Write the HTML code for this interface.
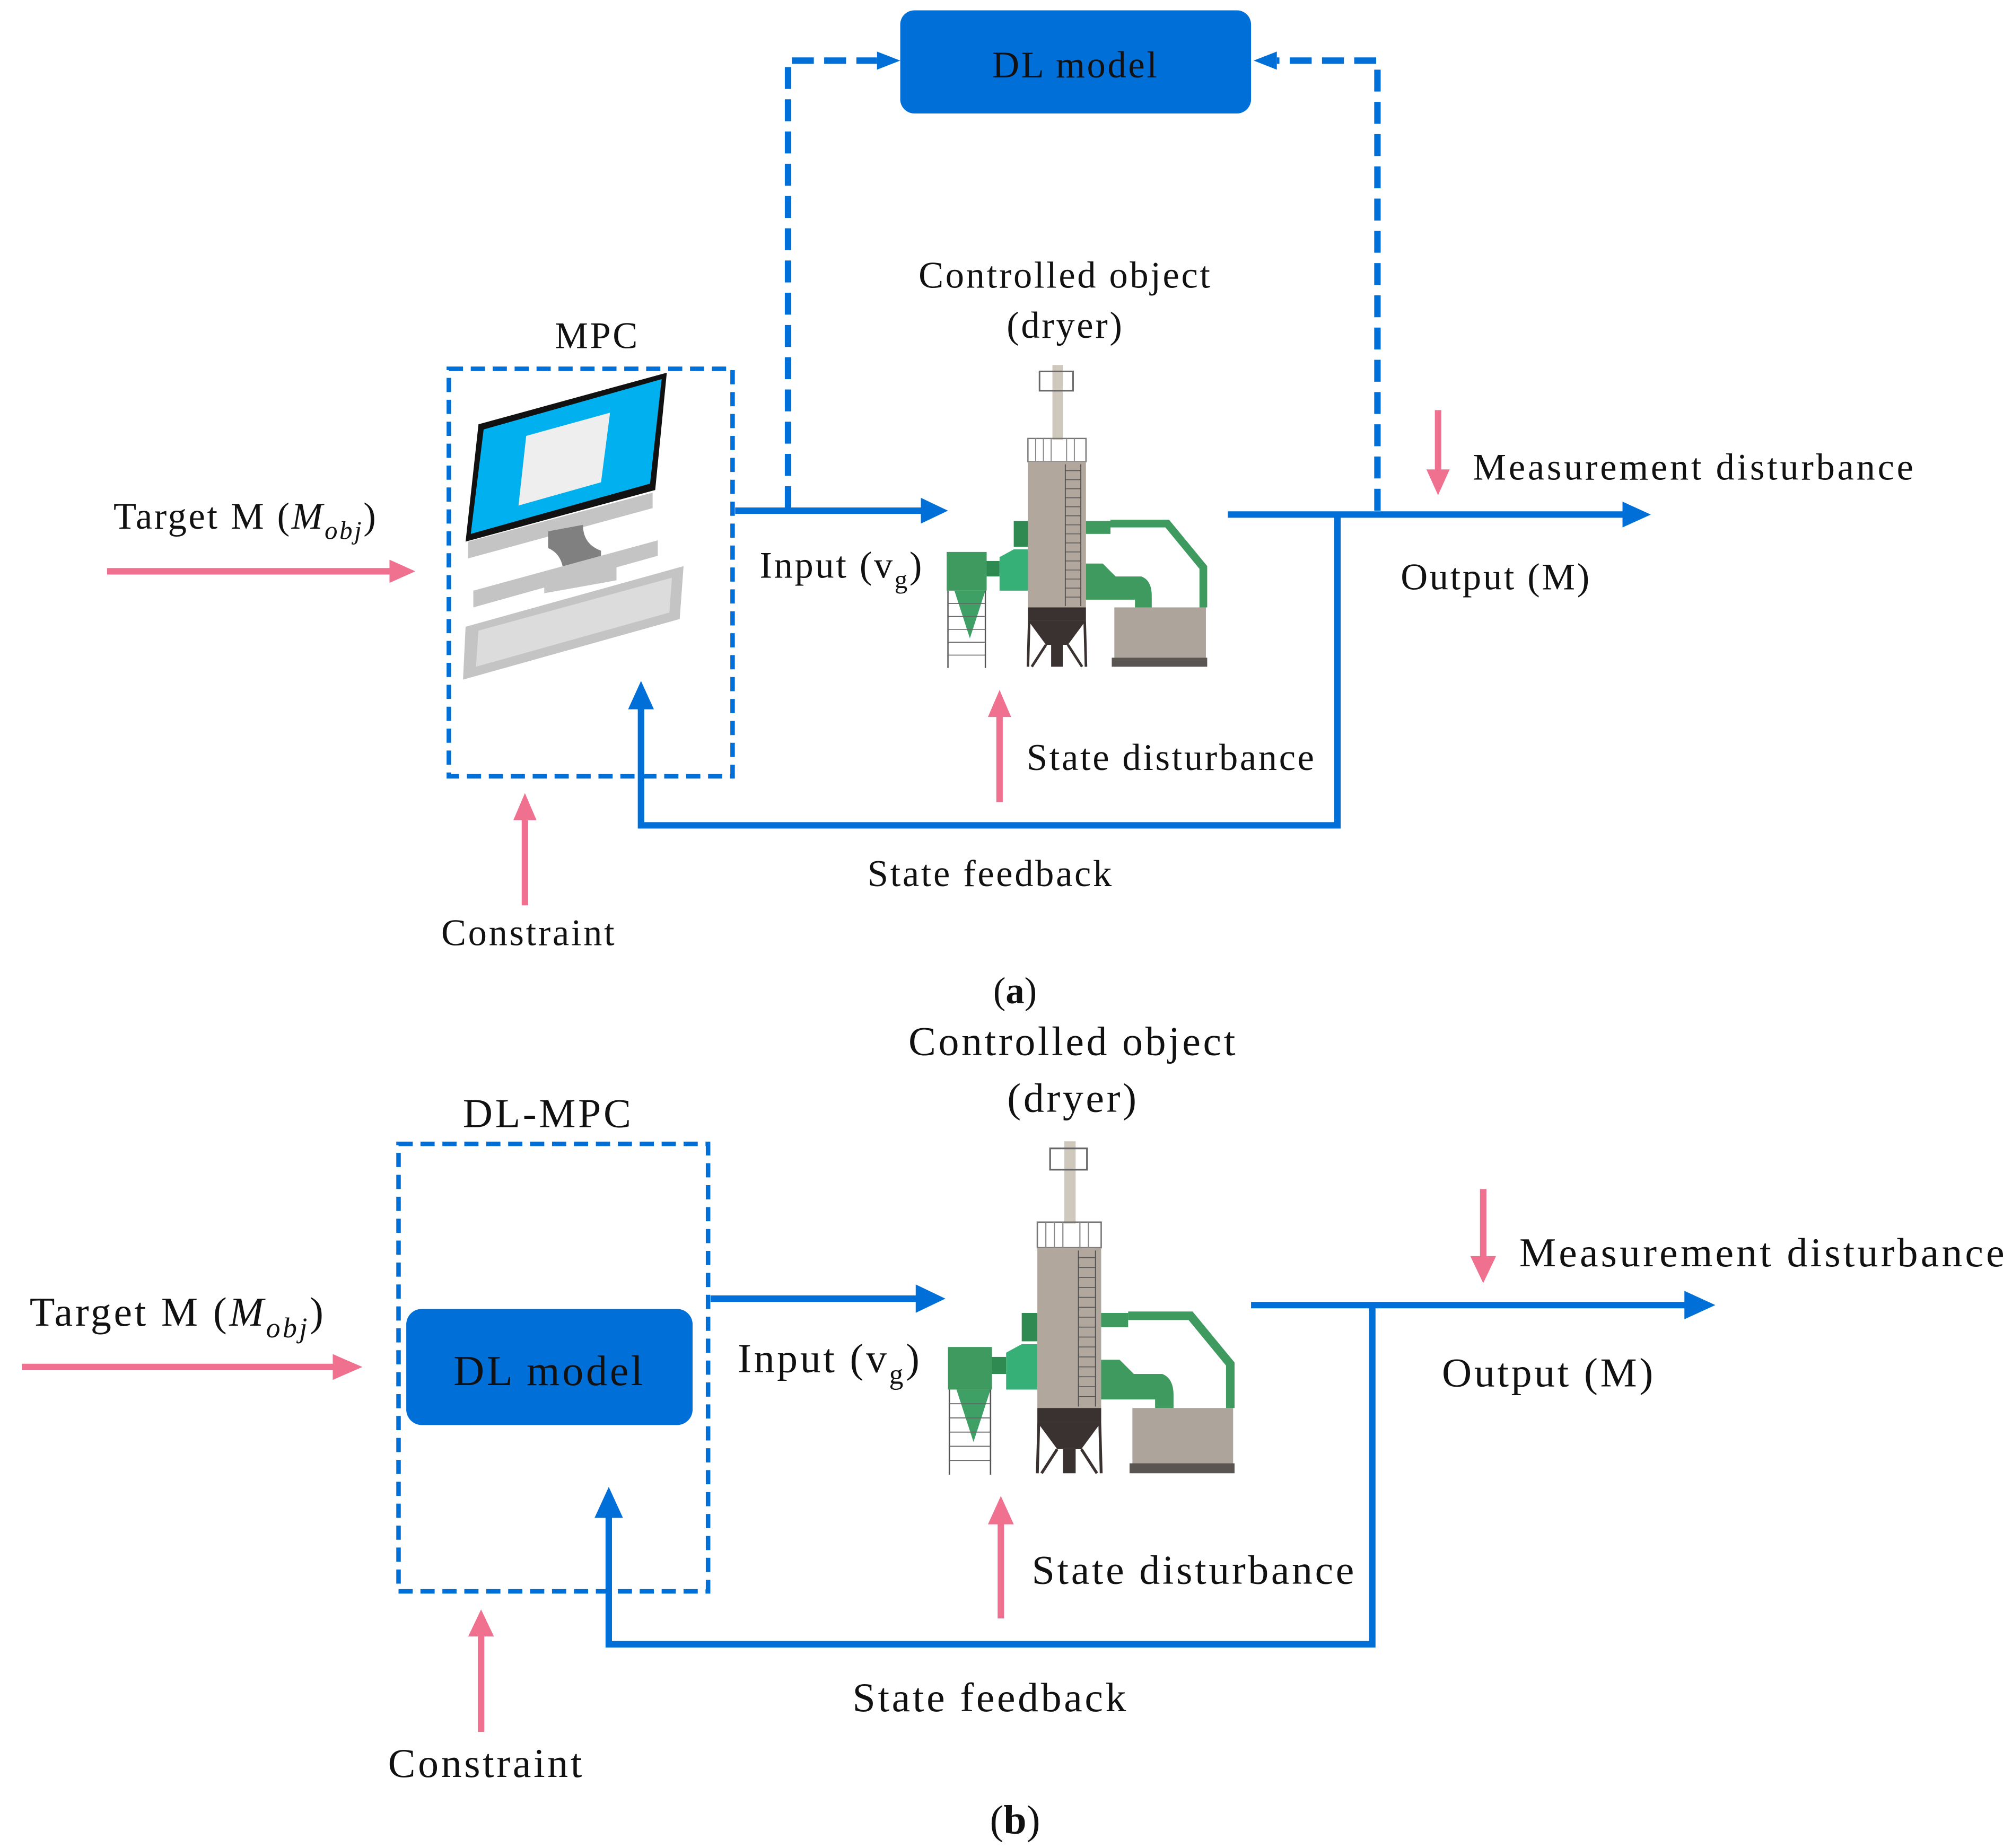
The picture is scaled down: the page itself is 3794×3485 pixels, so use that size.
<!DOCTYPE html>
<html><head><meta charset="utf-8"><style>
html,body{margin:0;padding:0;background:#fff}
svg{display:block}
text{font-family:"Liberation Serif",serif;fill:#111}
.a{letter-spacing:1.5px}
.b{letter-spacing:1.9px}
</style></head><body>
<svg width="3794" height="3485" viewBox="0 0 1560 1433" preserveAspectRatio="none" xmlns="http://www.w3.org/2000/svg">
<defs>
<g id="dryer">
  <rect x="816" y="283" width="8" height="58" fill="#cfc8bd"/>
  <rect x="806" y="288" width="26" height="15" fill="none" stroke="#666" stroke-width="1.2"/>
  <rect x="797" y="340" width="45" height="18" fill="none" stroke="#777" stroke-width="1"/>
  <path d="M803,340v18M809,340v18M815,340v18M827,340v18M833,340v18" stroke="#888" stroke-width="0.8"/>
  <rect x="797" y="358" width="45" height="113" fill="#b1a79d"/>
  <path d="M826,360v110M838,360v110" stroke="#555" stroke-width="0.8"/>
  <path d="M826,365h12M826,372h12M826,379h12M826,386h12M826,393h12M826,400h12M826,407h12M826,414h12M826,421h12M826,428h12M826,435h12M826,442h12M826,449h12M826,456h12M826,463h12" stroke="#555" stroke-width="0.6"/>
  <rect x="797" y="471" width="45" height="10" fill="#3a3230"/>
  <path d="M797,481 L842,481 L828,500 L811,500 z" fill="#3a3230"/>
  <path d="M798,481 L797,517 M841,481 L842,517 M811,500 L800,517 M828,500 L839,517" stroke="#3a3230" stroke-width="2"/>
  <rect x="815" y="500" width="9" height="17" fill="#3a3230"/>
  <rect x="734" y="428" width="31" height="30" fill="#3e9a5e"/>
  <path d="M740,458 L764,458 L752,495 z" fill="#3ea064"/>
  <path d="M735,458v60M764,458v60" stroke="#555" stroke-width="1"/>
  <path d="M735,468h29M735,478h29M735,488h29M735,498h29M735,508h29" stroke="#666" stroke-width="0.7"/>
  <rect x="765" y="435" width="10" height="12" fill="#2f8a52"/>
  <path d="M775,432 L786,426 L797,426 L797,458 L775,458 z" fill="#36b077"/>
  <rect x="786" y="404" width="11" height="20" fill="#2e8a50"/>
  <rect x="842" y="404" width="19" height="10" fill="#3e9a5e"/>
  <path d="M861,406 L905,406 L933,440 L933,471" fill="none" stroke="#3e9a5e" stroke-width="6"/>
  <path d="M842,437 L855,437 L865,447 L885,447 Q893,450 893,462 L893,471 L880,471 L880,465 L842,465 z" fill="#3e9a5e"/>
  <rect x="864" y="471" width="71" height="40" fill="#ada59b"/>
  <rect x="862" y="510" width="74" height="7" fill="#5a5550"/>
</g>
</defs>

<!-- ===== (a) ===== -->
<rect x="698" y="8" width="272" height="80" rx="11" fill="#0070d8"/>
<text class="a" x="834" y="60" font-size="29" text-anchor="middle">DL model</text>
<g fill="none" stroke="#0070d8" stroke-width="5" stroke-dasharray="17,8">
  <path d="M611,394 V47 H680"/>
  <path d="M1068,396 V47 H990"/>
</g>
<path d="M680,40 L698,47 L680,54 z" fill="#0070d8"/>
<path d="M990,40 L972,47 L990,54 z" fill="#0070d8"/>
<text class="a" x="463" y="270" font-size="29" text-anchor="middle">MPC</text>
<rect x="348" y="286" width="220" height="316" fill="none" stroke="#0070d8" stroke-width="3.5" stroke-dasharray="11,6"/>
<g>
  <path d="M371,329 L517,289 L508,380 L361,420 z" fill="#111"/>
  <path d="M375,333 L513,294 L504,375 L365,414 z" fill="#00b0ef"/>
  <path d="M408,338 L473,320 L466,374 L402,392 z" fill="#eeeeee"/>
  <path d="M363,420 L506,382 L506,394 L363,433 z" fill="#c4c4c4"/>
  <path d="M422,446 L478,436 L478,450 L422,460 z" fill="#c4c4c4"/>
  <path d="M425,412 L452,407 Q452,422 466,427 L466,440 L437,447 Q437,430 425,425 z" fill="#808080"/>
  <path d="M367,458 L510,419 L510,431 L367,471 z" fill="#c4c4c4"/>
  <path d="M361,486 L530,439 L527,480 L359,527 z" fill="#c4c4c4"/>
  <path d="M371,489 L521,448 L519,475 L369,517 z" fill="#dcdcdc"/>
</g>
<text class="a" x="88" y="410" font-size="29">Target M (<tspan font-style="italic">M</tspan><tspan font-style="italic" font-size="20" dy="8">obj</tspan><tspan dy="-8">)</tspan></text>
<line x1="83" y1="443" x2="308" y2="443" stroke="#f07090" stroke-width="5"/>
<path d="M302,434 L322,443 L302,452 z" fill="#f07090"/>
<line x1="570" y1="396" x2="718" y2="396" stroke="#0070d8" stroke-width="5"/>
<path d="M714,386 L735,396 L714,406 z" fill="#0070d8"/>
<text class="a" x="589" y="448" font-size="29">Input (v<tspan font-size="20" dy="8">g</tspan><tspan dy="-8">)</tspan></text>
<text class="a" x="826" y="223" font-size="29" text-anchor="middle">Controlled object</text>
<text class="a" x="826" y="262" font-size="29" text-anchor="middle">(dryer)</text>
<use href="#dryer"/>
<path d="M952,399 H1262" stroke="#0070d8" stroke-width="5"/>
<path d="M1258,389 L1280,399 L1258,409 z" fill="#0070d8"/>
<path d="M1037,399 V640 H497 V545" fill="none" stroke="#0070d8" stroke-width="5"/>
<path d="M487,550 L497,528 L507,550 z" fill="#0070d8"/>
<line x1="1115" y1="318" x2="1115" y2="368" stroke="#f07090" stroke-width="5"/>
<path d="M1106,364 L1115,384 L1124,364 z" fill="#f07090"/>
<text class="a" x="1142" y="372" font-size="29" textLength="343">Measurement  disturbance</text>
<text class="a" x="1086" y="457" font-size="29">Output (M)</text>
<line x1="775" y1="622" x2="775" y2="552" stroke="#f07090" stroke-width="5"/>
<path d="M766,556 L775,535 L784,556 z" fill="#f07090"/>
<text class="a" x="796" y="597" font-size="29">State disturbance</text>
<text class="a" x="768" y="687" font-size="29" text-anchor="middle">State feedback</text>
<line x1="407" y1="702" x2="407" y2="632" stroke="#f07090" stroke-width="5"/>
<path d="M398,636 L407,615 L416,636 z" fill="#f07090"/>
<text class="a" x="410" y="733" font-size="29" text-anchor="middle">Constraint</text>
<text x="787" y="778" font-size="29" text-anchor="middle">(<tspan font-weight="bold">a</tspan>)</text>

<!-- ===== (b) ===== -->
<text class="b" x="832" y="818" font-size="32" text-anchor="middle">Controlled object</text>
<text class="b" x="832" y="862" font-size="32" text-anchor="middle">(dryer)</text>
<text class="b" x="425" y="874" font-size="32" text-anchor="middle">DL-MPC</text>
<rect x="309" y="887" width="240" height="347" fill="none" stroke="#0070d8" stroke-width="3.5" stroke-dasharray="11,6"/>
<rect x="315" y="1015" width="222" height="90" rx="12" fill="#0070d8"/>
<text class="b" x="426" y="1074" font-size="33" text-anchor="middle">DL model</text>
<text class="b" x="23" y="1028" font-size="32">Target M (<tspan font-style="italic">M</tspan><tspan font-style="italic" font-size="22" dy="9">obj</tspan><tspan dy="-9">)</tspan></text>
<line x1="17" y1="1060" x2="264" y2="1060" stroke="#f07090" stroke-width="5"/>
<path d="M258,1050 L281,1060 L258,1070 z" fill="#f07090"/>
<line x1="551" y1="1007" x2="714" y2="1007" stroke="#0070d8" stroke-width="5"/>
<path d="M710,996 L733,1007 L710,1018 z" fill="#0070d8"/>
<text class="b" x="572" y="1064" font-size="32">Input (v<tspan font-size="22" dy="9">g</tspan><tspan dy="-9">)</tspan></text>
<use href="#dryer" transform="translate(-72.4,573.7) scale(1.1)"/>
<path d="M970,1012 H1310" stroke="#0070d8" stroke-width="5"/>
<path d="M1306,1001 L1330,1012 L1306,1023 z" fill="#0070d8"/>
<path d="M1064,1012 V1275 H472 V1172" fill="none" stroke="#0070d8" stroke-width="5"/>
<path d="M461,1177 L472,1153 L483,1177 z" fill="#0070d8"/>
<line x1="1150" y1="922" x2="1150" y2="978" stroke="#f07090" stroke-width="5"/>
<path d="M1140,974 L1150,995 L1160,974 z" fill="#f07090"/>
<text class="b" x="1178" y="982" font-size="32" textLength="378">Measurement  disturbance</text>
<text class="b" x="1118" y="1075" font-size="32">Output (M)</text>
<line x1="776" y1="1255" x2="776" y2="1178" stroke="#f07090" stroke-width="5"/>
<path d="M766,1182 L776,1160 L786,1182 z" fill="#f07090"/>
<text class="b" x="800" y="1228" font-size="32">State disturbance</text>
<text class="b" x="768" y="1327" font-size="32" text-anchor="middle">State feedback</text>
<line x1="373" y1="1343" x2="373" y2="1265" stroke="#f07090" stroke-width="5"/>
<path d="M363,1269 L373,1248 L383,1269 z" fill="#f07090"/>
<text class="b" x="377" y="1378" font-size="32" text-anchor="middle">Constraint</text>
<text x="787" y="1422" font-size="32" text-anchor="middle">(<tspan font-weight="bold">b</tspan>)</text>
</svg>
</body></html>
